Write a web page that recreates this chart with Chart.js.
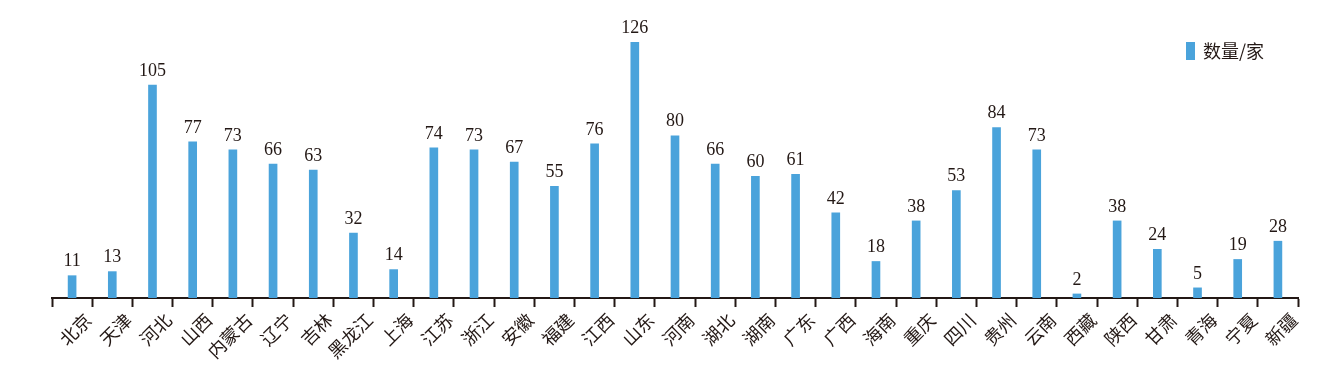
<!DOCTYPE html>
<html>
<head>
<meta charset="utf-8">
<script src="https://cdn.jsdelivr.net/npm/chart.js@4/dist/chart.umd.min.js"></script>
<style>
  html, body { margin: 0; padding: 0; background: #fff; }
  #wrap { width: 1335px; height: 381px; position: relative; }
</style>
</head>
<body>
<div id="wrap"><canvas id="chart"></canvas></div>
<script>
// provinces and enterprise counts
const provinces = ['北京', '天津', '河北', '山西', '内蒙古', '辽宁', '吉林', '黑龙江', '上海', '江苏',
  '浙江', '安徽', '福建', '江西', '山东', '河南', '湖北', '湖南', '广东', '广西',
  '海南', '重庆', '四川', '贵州', '云南', '西藏', '陕西', '甘肃', '青海', '宁夏', '新疆'];
const counts = [11, 13, 105, 77, 73, 66, 63, 32, 14, 74,
  73, 67, 55, 76, 126, 80, 66, 60, 61, 42,
  18, 38, 53, 84, 73, 2, 38, 24, 5, 19, 28];
const seriesName = '数量/家';

const barColor = '#4aa3db';
const inkColor = '#231815';
const cjkFont = '"Noto Sans CJK SC", sans-serif';

// value labels above each bar
const valueLabels = {
  id: 'valueLabels',
  afterDatasetsDraw(chart) {
    const ctx = chart.ctx;
    const meta = chart.getDatasetMeta(0);
    ctx.save();
    ctx.font = '18px "Liberation Serif", "DejaVu Serif", serif';
    ctx.fillStyle = inkColor;
    ctx.textAlign = 'center';
    ctx.textBaseline = 'bottom';
    meta.data.forEach((bar, i) => {
      ctx.fillText(String(counts[i]), bar.x, bar.y - 5);
    });
    ctx.restore();
  }
};

// small legend in the top right corner of the plot
const cornerLegend = {
  id: 'cornerLegend',
  afterDraw(chart) {
    const ctx = chart.ctx;
    const area = chart.chartArea;
    const x = area.right - 112;
    const y = 42;
    ctx.save();
    ctx.fillStyle = barColor;
    ctx.fillRect(x, y, 9, 18);
    ctx.fillStyle = inkColor;
    ctx.font = '18px ' + cjkFont;
    ctx.textAlign = 'left';
    ctx.textBaseline = 'middle';
    ctx.fillText(chart.data.datasets[0].label, x + 17, y + 9);
    ctx.restore();
  }
};

new Chart(document.getElementById('chart'), {
  type: 'bar',
  data: {
    labels: provinces,
    datasets: [{
      label: seriesName,
      data: counts,
      backgroundColor: barColor,
      barThickness: 8
    }]
  },
  options: {
    responsive: true,
    maintainAspectRatio: false,
    animation: false,
    layout: { padding: { left: 52, right: 37, top: 14, bottom: 0 } },
    plugins: {
      legend: { display: false },
      tooltip: { enabled: false }
    },
    scales: {
      x: {
        offset: true,
        grid: {
          offset: true,
          drawOnChartArea: false,
          tickLength: 9,
          tickWidth: 2,
          tickColor: inkColor
        },
        border: { color: inkColor, width: 2 },
        ticks: {
          maxRotation: 45,
          minRotation: 45,
          autoSkip: false,
          labelOffset: 16,
          padding: 2,
          color: inkColor,
          font: { size: 18, family: cjkFont }
        },
        afterFit(scale) { scale.height = 83; }
      },
      y: {
        display: false,
        min: 0,
        max: 140
      }
    }
  },
  plugins: [valueLabels, cornerLegend]
});
</script>
</body>
</html>
